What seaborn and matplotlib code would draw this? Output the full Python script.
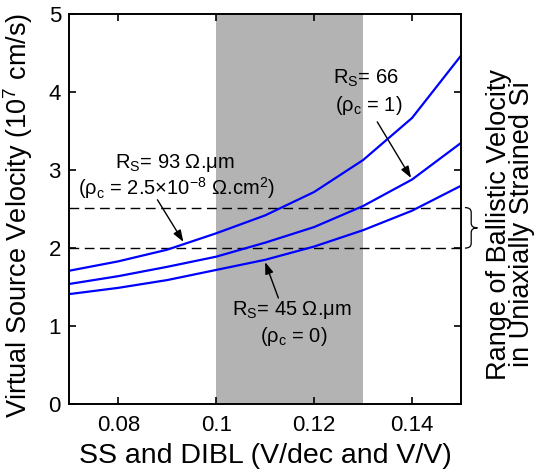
import numpy as np
import pandas as pd
import matplotlib
matplotlib.use("Agg")
import matplotlib.pyplot as plt
import seaborn as sns
from matplotlib.path import Path
from matplotlib.patches import PathPatch
from matplotlib.transforms import blended_transform_factory

# ---- data ----
ss_dibl = [0.07, 0.08, 0.09, 0.10, 0.11, 0.12, 0.13, 0.14, 0.15]
v_rs93 = [1.71, 1.83, 1.98, 2.19, 2.42, 2.72, 3.13, 3.67, 4.47]
v_rs66 = [1.54, 1.64, 1.76, 1.89, 2.07, 2.27, 2.54, 2.88, 3.35]
v_rs45 = [1.41, 1.49, 1.59, 1.72, 1.85, 2.02, 2.23, 2.48, 2.80]
ballistic_range = [2.0, 2.52]
shaded_range = [0.10, 0.13]
x_ticks = [0.08, 0.1, 0.12, 0.14]
x_tick_labels = ["0.08", "0.1", "0.12", "0.14"]
y_ticks = [0, 1, 2, 3, 4, 5]

df = pd.DataFrame({
    "x": ss_dibl * 3,
    "v": v_rs93 + v_rs66 + v_rs45,
    "series": ["RS93"] * 9 + ["RS66"] * 9 + ["RS45"] * 9,
})

sns.set_style("ticks")
plt.rcParams["font.family"] = ["Liberation Sans", "DejaVu Sans"]
plt.rcParams["mathtext.default"] = "regular"
plt.rcParams["text.color"] = "black"
plt.rcParams["axes.labelcolor"] = "black"
plt.rcParams["xtick.color"] = "black"
plt.rcParams["ytick.color"] = "black"

fig = plt.figure(figsize=(5.43, 4.71), dpi=100)
ax = fig.add_axes([0.1276, 0.1423, 0.849 - 0.1276, 0.9696 - 0.1423])

ax.axvspan(shaded_range[0], shaded_range[1], color="#b3b3b3", lw=0, zorder=0)
for yv in ballistic_range:
    ax.axhline(yv, color="black", lw=1.0, ls=(0, (7, 4)), zorder=1)

sns.lineplot(data=df, x="x", y="v", hue="series", units="series", estimator=None,
             palette={"RS93": "#0000ff", "RS66": "#0000ff", "RS45": "#0000ff"},
             lw=1.6, legend=False, ax=ax, zorder=3)

ax.set_xlim(0.07, 0.15)
ax.set_ylim(0, 5)
ax.set_xticks(x_ticks)
ax.set_xticklabels(x_tick_labels)
ax.set_yticks(y_ticks)
ax.tick_params(direction="in", top=True, right=True, length=5, width=1.2,
               labelsize=16, color="black", labelcolor="black")
ax.tick_params(axis="x", pad=8)
ax.tick_params(axis="y", pad=6)
for s in ax.spines.values():
    s.set_linewidth(1.4)
    s.set_color("black")
    s.set_zorder(5)

ax.set_xlabel("SS and DIBL (V/dec and V/V)", fontsize=20.5, labelpad=5, color="black")
ax.set_ylabel("Virtual Source Velocity (10$^7$ cm/s)", fontsize=19.5, color="black")
ax.yaxis.set_label_coords(-0.088, 0.485)

tfs = 14.5
ax.text(0.1239, 4.18, "R$_S$= 66", fontsize=tfs, ha="left", va="center")
ax.text(0.1243, 3.83, "(ρ$_c$ = 1)", fontsize=tfs, ha="left", va="center")
ax.text(0.0794, 3.09, "R$_S$= 93 Ω.μm", fontsize=tfs, ha="left", va="center")
ax.text(0.0718, 2.77, "(ρ$_c$ = 2.5×10$^{-8}$ Ω.cm$^2$)", fontsize=tfs, ha="left", va="center")
ax.text(0.1033, 1.21, "R$_S$= 45 Ω.μm", fontsize=tfs, ha="left", va="center")
ax.text(0.1090, 0.86, "(ρ$_c$ = 0)", fontsize=tfs, ha="left", va="center")

ap = dict(arrowstyle="-|>,head_length=0.7,head_width=0.25", color="black", lw=1.0,
          shrinkA=0, shrinkB=0)
ax.annotate("", xy=(0.1398, 2.90), xytext=(0.1329, 3.62), arrowprops=ap)
ax.annotate("", xy=(0.0933, 2.08), xytext=(0.0880, 2.62), arrowprops=ap)
ax.annotate("", xy=(0.1100, 1.82), xytext=(0.1127, 1.36), arrowprops=ap)

# curly brace to the right of the axes
tr = blended_transform_factory(ax.transAxes, ax.transData)
y0, y1 = ballistic_range
ym = (y0 + y1) / 2
xa, xb, xc = 1.010, 1.026, 1.042
h = 0.06
verts = [(xa, y1), (xb, y1), (xb, y1 - h),
         (xb, ym + h), (xb, ym), (xc, ym),
         (xc, ym), (xb, ym), (xb, ym - h),
         (xb, y0 + h), (xb, y0), (xa, y0)]
codes = [Path.MOVETO, Path.CURVE3, Path.CURVE3,
         Path.LINETO, Path.CURVE3, Path.CURVE3,
         Path.MOVETO, Path.CURVE3, Path.CURVE3,
         Path.LINETO, Path.CURVE3, Path.CURVE3]
brace = PathPatch(Path(verts, codes), transform=tr, fill=False, lw=0.9,
                  edgecolor="black", clip_on=False)
ax.add_patch(brace)

fig.text(0.940, 0.524, "Range of Ballistic Velocity\nin Uniaxially Strained Si",
         rotation=90, fontsize=19.5, ha="center", va="center",
         multialignment="center", linespacing=0.85)

fig.savefig("out.png", dpi=100)
